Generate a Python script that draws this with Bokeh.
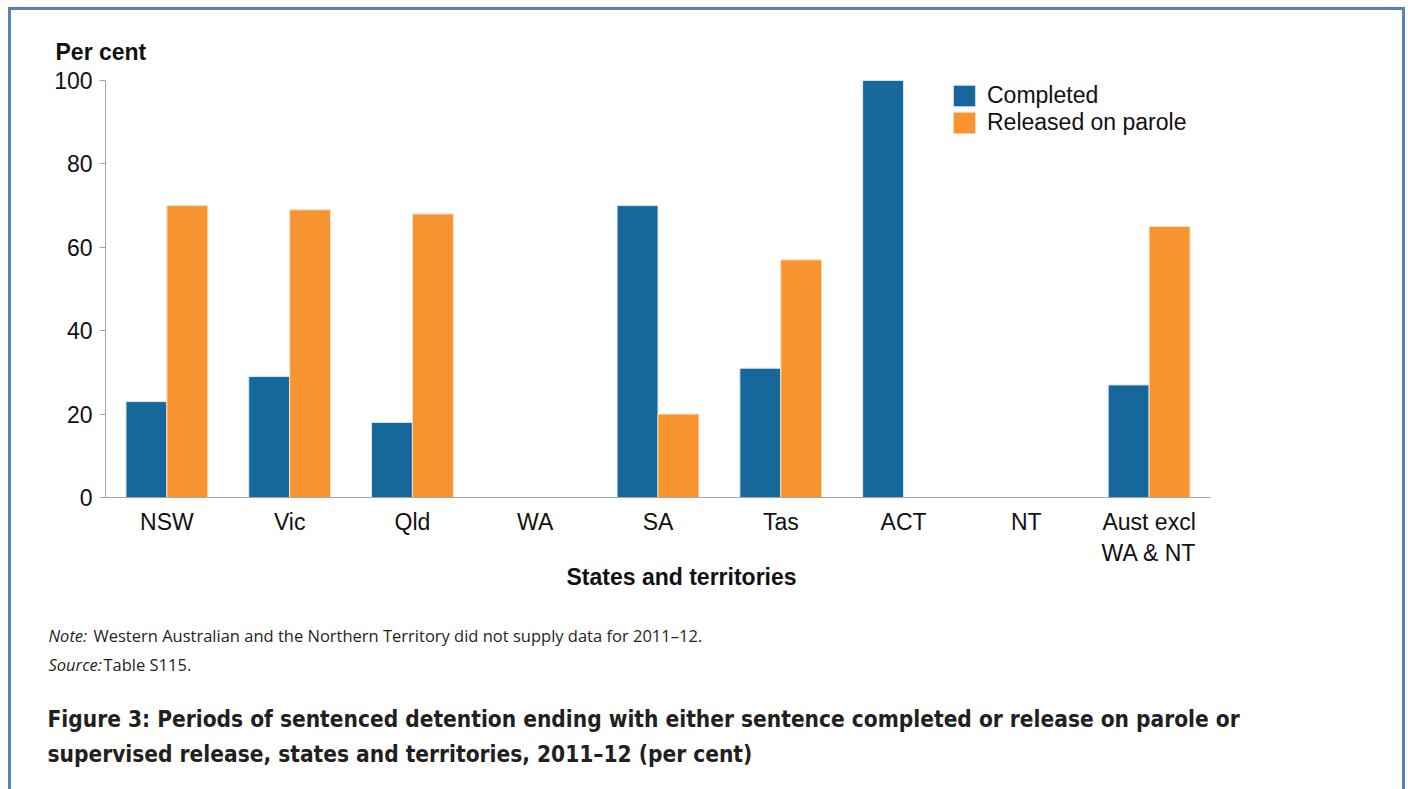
import numpy as np
from bokeh.plotting import figure
from bokeh.layouts import column
from bokeh.models import ColumnDataSource, FactorRange, Range1d, Legend, LegendItem, Title
from bokeh.core.properties import value
from bokeh.transform import dodge
from bokeh.embed import file_html
from bokeh.resources import INLINE

categories = ["NSW", "Vic", "Qld", "WA", "SA", "Tas", "ACT", "NT", "Aust excl\nWA & NT"]
completed = [23, 29, 18, np.nan, 70, 31, 100, np.nan, 27]
parole = [70, 69, 68, np.nan, 20, 57, 0, np.nan, 65]
y_ticks = [0, 20, 40, 60, 80, 100]

BLUE = "#15679c"
ORANGE = "#f7942f"
TXT = "#111111"
CAP_TXT = "#231f20"
FONT = "Liberation Sans"
NOTE_FONT = "Open Sans"
TITLE_FONT = "DejaVu Sans Condensed"

src = ColumnDataSource(dict(cat=categories, completed=completed, parole=parole))

W, H = 1391, 600
FL, FT, FW, FH = 94, 70, 1105, 417
p = figure(width=W, height=H, output_backend="svg", toolbar_location=None,
           x_range=FactorRange(*categories, factor_padding=0, range_padding=0),
           y_range=Range1d(0, 100),
           min_border_left=FL, min_border_right=W - FL - FW, min_border_top=FT,
           min_border_bottom=H - FT - FH)
p.frame_align = False
p.outline_line_color = None
p.xgrid.visible = False
p.ygrid.visible = False

r1 = p.vbar(x=dodge("cat", -1/6, range=p.x_range), top="completed", width=1/3, bottom=0,
            source=src, fill_color=BLUE, line_color="#dfe8f0", line_width=1)
r2 = p.vbar(x=dodge("cat", 1/6, range=p.x_range), top="parole", width=1/3, bottom=0,
            source=src, fill_color=ORANGE, line_color="#fbe3c8", line_width=1)

p.yaxis.ticker = y_ticks
p.yaxis.minor_tick_line_color = None
p.yaxis.major_tick_out = 6
p.yaxis.major_tick_in = 0
p.yaxis.axis_line_color = "#a6a6a6"
p.yaxis.major_tick_line_color = "#a6a6a6"
p.yaxis.major_label_text_font = FONT
p.yaxis.major_label_text_font_size = "23px"
p.yaxis.major_label_text_color = TXT
p.yaxis.major_label_standoff = 7

p.xaxis.axis_line_color = "#a6a6a6"
p.xaxis.major_tick_line_color = None
p.xaxis.minor_tick_line_color = None
p.xaxis.major_label_text_font = FONT
p.xaxis.major_label_text_font_size = "23px"
p.xaxis.major_label_text_color = TXT
p.xaxis.major_label_standoff = 5

legend = Legend(items=[LegendItem(label="Completed", renderers=[r1]),
                       LegendItem(label="Released on parole", renderers=[r2])],
                location=(845, 361), border_line_color=None, background_fill_alpha=0,
                padding=0, margin=0, spacing=0, glyph_width=28, glyph_height=27,
                label_text_font=FONT, label_text_font_size="23px", label_standoff=9,
                label_height=27, label_text_color=TXT)
p.add_layout(legend, "center")

p.add_layout(Title(text="Per cent", align="left", offset=-50, standoff=32,
                   text_font=FONT, text_font_size="23px", text_font_style="bold",
                   text_color=TXT), "above")
p.add_layout(Title(text="States and territories", align="left", offset=461, standoff=-13,
                   text_font=FONT, text_font_size="23px", text_font_style="bold",
                   text_color=TXT), "below")

# caption area
QH = 179
q = figure(width=W, height=QH, output_backend="svg", toolbar_location=None,
           x_range=Range1d(0, W), y_range=Range1d(QH, 0),
           x_axis_location=None, y_axis_location=None,
           min_border_left=0, min_border_right=0, min_border_top=0, min_border_bottom=0)
q.frame_align = False
q.outline_line_color = None
q.grid.visible = False

def cap(x, y, text, size, style="normal", font=NOTE_FONT):
    q.text(x=[x], y=[y], text=[text], text_font=value(font), text_font_size=size,
           text_font_style=style, text_color=CAP_TXT, text_baseline="middle", text_align="left")

cap(37, 25, "Note:", "16.5px", "italic")
cap(82, 25, "Western Australian and the Northern Territory did not supply data for 2011–12.", "16.5px")
cap(37, 54, "Source:", "16.5px", "italic")
cap(92, 54, "Table S115.", "16.5px")
cap(36, 108, "Figure 3: Periods of sentenced detention ending with either sentence completed or release on parole or", "22.5px", "bold", TITLE_FONT)
cap(36, 143, "supervised release, states and territories, 2011–12 (per cent)", "22.5px", "bold", TITLE_FONT)

layout = column(p, q, spacing=0)
layout.styles = {"border-top": "3px solid #5b80b2", "border-left": "3px solid #5b80b2",
                 "border-right": "3px solid #5b80b2", "margin-left": "8px", "margin-top": "7px"}

open("out.html", "w").write(file_html(layout, INLINE))
